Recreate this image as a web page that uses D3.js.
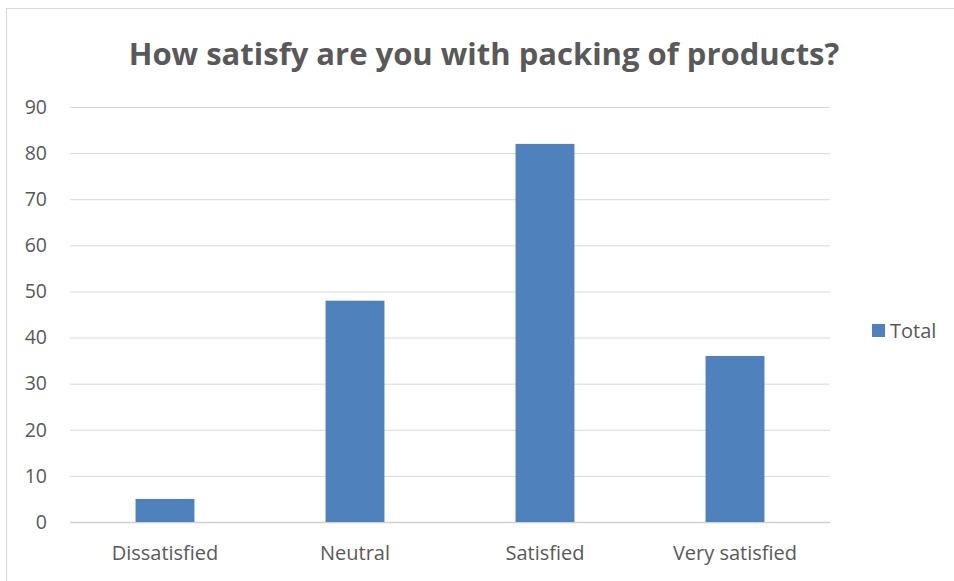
<!DOCTYPE html>
<html>
<head>
<meta charset="utf-8">
<title>Packing satisfaction</title>
<script src="https://cdn.jsdelivr.net/npm/d3@7"></script>
<style>
body { margin: 0; background: #fff; }
text { font-family: 'Open Sans', sans-serif; fill: #595959; }
</style>
</head>
<body>
<script>
// data
var categories = ["Dissatisfied", "Neutral", "Satisfied", "Very satisfied"];
var totals = [5, 48, 82, 36];
var yTicks = [0, 10, 20, 30, 40, 50, 60, 70, 80, 90];
var seriesName = "Total";
var chartTitle = "How satisfy are you with packing of products?";

var w = 954, h = 581;
var barColor = "#4f81bd";

var svg = d3.select("body").append("svg")
  .attr("width", w)
  .attr("height", h);

// chart frame
svg.append("rect")
  .attr("x", 6.5).attr("y", 8.5)
  .attr("width", w + 20).attr("height", h + 20)
  .attr("fill", "white")
  .attr("stroke", "#d9d9d9");

var x = d3.scaleBand()
  .domain(categories)
  .range([70, 830])
  .paddingInner(0.69)
  .paddingOuter(0.345);

var y = d3.scaleLinear()
  .domain([0, 90])
  .range([522, 107]);

// gridlines
svg.append("g").selectAll("line")
  .data(yTicks)
  .enter().append("line")
  .attr("x1", 70).attr("x2", 830)
  .attr("y1", function(d){ return y(d) + 0.5; })
  .attr("y2", function(d){ return y(d) + 0.5; })
  .attr("stroke", function(d){ return d == 0 ? "#d0d0d0" : "#d9d9d9"; })
  .attr("stroke-width", function(d){ return d == 0 ? 1.5 : 1; });

// y labels
svg.append("g").selectAll("text")
  .data(yTicks)
  .enter().append("text")
  .attr("x", 47)
  .attr("y", function(d){ return y(d); })
  .attr("dy", "0.35em")
  .attr("text-anchor", "end")
  .attr("font-size", "19.5px")
  .text(function(d){ return d; });

// bars
svg.append("g").selectAll("rect")
  .data(totals)
  .enter().append("rect")
  .attr("x", function(d, i){ return x(categories[i]); })
  .attr("width", x.bandwidth())
  .attr("y", function(d){ return y(d); })
  .attr("height", function(d){ return y(0) - y(d); })
  .attr("fill", barColor);

// category labels
svg.append("g").selectAll("text")
  .data(categories)
  .enter().append("text")
  .attr("x", function(d){ return x(d) + x.bandwidth() / 2; })
  .attr("y", 560)
  .attr("text-anchor", "middle")
  .attr("font-size", "20px")
  .text(function(d){ return d; });

// title
svg.append("text")
  .attr("x", 484)
  .attr("y", 65)
  .attr("text-anchor", "middle")
  .attr("font-size", "31px")
  .attr("font-weight", "bold")
  .text(chartTitle);

// legend
svg.append("rect")
  .attr("x", 872).attr("y", 324)
  .attr("width", 13).attr("height", 13)
  .attr("fill", barColor);
svg.append("text")
  .attr("x", 890).attr("y", 331)
  .attr("dy", "0.35em")
  .attr("font-size", "20px")
  .text(seriesName);
</script>
</body>
</html>
